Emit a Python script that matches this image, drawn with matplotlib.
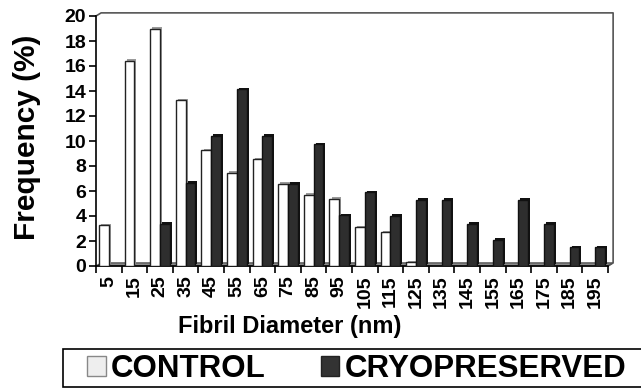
import matplotlib
matplotlib.use('Agg')
import matplotlib.pyplot as plt
from matplotlib.patches import Rectangle, Polygon
import numpy as np

plt.rcParams['font.family'] = ['Liberation Sans', 'DejaVu Sans']
plt.rcParams['font.weight'] = 'bold'

# fibril diameter bins (nm) and frequencies (%)
diameters = [5, 15, 25, 35, 45, 55, 65, 75, 85, 95, 105, 115, 125, 135, 145, 155, 165, 175, 185, 195]
control = [3.25, 16.4, 19.0, 13.25, 9.25, 7.45, 8.55, 6.6, 5.7, 5.4, 3.1, 2.7, 0.3, 0, 0, 0, 0, 0, 0, 0]
cryo = [0, 0, 3.4, 6.65, 10.4, 14.15, 10.4, 6.6, 9.75, 4.05, 5.9, 4.0, 5.3, 5.3, 3.4, 2.1, 5.3, 3.4, 1.5, 1.5]
yticks = list(range(0, 21, 2))

W, H = 641, 389
fig = plt.figure(figsize=(W / 100, H / 100), dpi=100)
ax = fig.add_axes([96 / W, 1 - 266 / H, 512 / W, 250 / H])

x = np.arange(len(diameters))
bw = 0.38
dx, dy = 0.2, 0.25  # depth offset of the pseudo-3D look

# floor
floor = Polygon([(-0.5, 0), (len(x) - 0.5, 0), (len(x) - 0.5 + dx, dy), (-0.5 + dx, dy)],
                closed=True, facecolor='#8a8a8a', edgecolor='#444444', lw=0.8, zorder=1, clip_on=False)
ax.add_patch(floor)

# back wall
ax.plot([-0.5, -0.5 + dx, len(x) - 0.5 + dx, len(x) - 0.5 + dx, len(x) - 0.5],
        [20, 20 + dy, 20 + dy, dy, 0], color='#555555', lw=1.2, clip_on=False, zorder=1)

# side/depth faces
ax.bar(x - bw / 2 + dx * 0.4, control, width=bw, bottom=dy * 0.5, color='#9a9a9a',
       edgecolor='none', zorder=2)
ax.bar(x + bw / 2 + dx * 0.4, cryo, width=bw, bottom=dy * 0.5, color='#111111',
       edgecolor='none', zorder=2)
# front faces
ax.bar(x - bw / 2, control, width=bw, color='white', edgecolor='#222222', lw=1.0, zorder=3)
ax.bar(x + bw / 2, cryo, width=bw, color='#2e2e2e', edgecolor='#111111', lw=1.0, zorder=3)

ax.set_xlim(-0.5, len(x) - 0.5)
ax.set_ylim(0, 20)
for s in ['top', 'right']:
    ax.spines[s].set_visible(False)
ax.spines['left'].set_linewidth(1.2)
ax.spines['bottom'].set_linewidth(1.2)

ax.set_yticks(yticks)
ax.set_yticklabels([str(v) for v in yticks], fontsize=14, fontweight='bold')
ax.set_xticks(x)
ax.set_xticklabels([str(d) for d in diameters], rotation=90, fontsize=14, fontweight='bold')
ax.set_xticks(np.arange(-0.5, len(x), 1), minor=True)
ax.tick_params(axis='x', which='major', length=0, pad=7)
ax.tick_params(axis='x', which='minor', length=5, width=1.2)
ax.tick_params(axis='y', length=5, width=1.2, pad=2)

fig.text(27 / W, 1 - 137 / H, 'Frequency (%)', rotation=90, ha='center', va='center',
         fontsize=21.5, fontweight='bold')
fig.text(290 / W, 1 - 327 / H, 'Fibril Diameter (nm)', ha='center', va='center',
         fontsize=17, fontweight='bold')

# legend box
fig.patches.append(Rectangle((63 / W, 1 - 387 / H), 600 / W, 38 / H, transform=fig.transFigure,
                             facecolor='white', edgecolor='black', lw=1.2))
h1 = Rectangle((0, 0), 1, 1, facecolor='#eeeeee', edgecolor='#888888', lw=1.0)
h2 = Rectangle((0, 0), 1, 1, facecolor='#333333', edgecolor='#222222', lw=1.0)
fig.legend([h1, h2], ['CONTROL', 'CRYOPRESERVED'], loc='center left',
           bbox_to_anchor=(87 / W, 1 - 369 / H), ncol=2, frameon=False,
           prop={'size': 22.5, 'weight': 'bold'}, handlelength=0.6, handleheight=0.6,
           handletextpad=0.17, columnspacing=1.75, borderpad=0, borderaxespad=0)

fig.savefig('out.png', dpi=100)
